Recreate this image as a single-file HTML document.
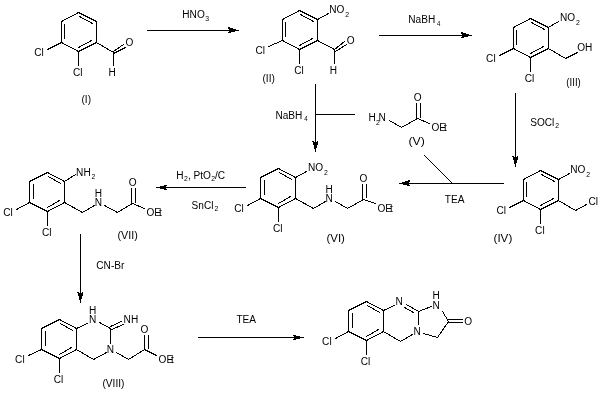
<!DOCTYPE html>
<html><head><meta charset="utf-8"><style>
html,body{margin:0;padding:0;background:#fff;width:603px;height:404px;overflow:hidden}
svg{display:block;will-change:transform}
text{font-family:"Liberation Sans",sans-serif}
</style></head><body>
<svg width="603" height="404" viewBox="0 0 603 404">
<rect width="603" height="404" fill="#fff"/>
<g stroke="#000" stroke-width="1" stroke-linecap="square" shape-rendering="crispEdges" fill="none">
<line x1="78.5" y1="12.5" x2="96.5" y2="21.5"/>
<line x1="96.5" y1="21.5" x2="96.5" y2="42.5"/>
<line x1="96.5" y1="42.5" x2="78.5" y2="51.5"/>
<line x1="78.5" y1="51.5" x2="61.5" y2="42.5"/>
<line x1="61.5" y1="42.5" x2="61.5" y2="21.5"/>
<line x1="61.5" y1="21.5" x2="78.5" y2="12.5"/>
<line x1="64.5" y1="24.5" x2="64.5" y2="38.5"/>
<line x1="79.5" y1="16.5" x2="92.5" y2="23.5"/>
<line x1="78.5" y1="47.5" x2="91.5" y2="40.5"/>
<line x1="61.5" y1="42.5" x2="47.5" y2="49.5"/>
<line x1="78.5" y1="51.5" x2="78.5" y2="65.5"/>
<line x1="96.5" y1="42.5" x2="113.5" y2="52.5"/>
<line x1="113.5" y1="52.5" x2="113.5" y2="65.5"/>
<line x1="113.5" y1="51.5" x2="123.5" y2="44.5"/>
<line x1="113.5" y1="53.5" x2="125.5" y2="47.5"/>
<line x1="147.5" y1="30.5" x2="229.5" y2="30.5"/>
<line x1="299.5" y1="10.5" x2="317.5" y2="19.5"/>
<line x1="317.5" y1="19.5" x2="317.5" y2="40.5"/>
<line x1="317.5" y1="40.5" x2="299.5" y2="49.5"/>
<line x1="299.5" y1="49.5" x2="282.5" y2="40.5"/>
<line x1="282.5" y1="40.5" x2="282.5" y2="19.5"/>
<line x1="282.5" y1="19.5" x2="299.5" y2="10.5"/>
<line x1="285.5" y1="22.5" x2="285.5" y2="36.5"/>
<line x1="300.5" y1="14.5" x2="313.5" y2="21.5"/>
<line x1="299.5" y1="45.5" x2="312.5" y2="38.5"/>
<line x1="282.5" y1="40.5" x2="268.5" y2="46.5"/>
<line x1="299.5" y1="49.5" x2="299.5" y2="63.5"/>
<line x1="317.5" y1="19.5" x2="328.5" y2="13.5"/>
<line x1="317.5" y1="40.5" x2="334.5" y2="49.5"/>
<line x1="334.5" y1="49.5" x2="334.5" y2="63.5"/>
<line x1="334.5" y1="49.5" x2="344.5" y2="41.5"/>
<line x1="335.5" y1="51.5" x2="346.5" y2="44.5"/>
<line x1="379.5" y1="35.5" x2="462.5" y2="35.5"/>
<line x1="530.5" y1="18.5" x2="548.5" y2="27.5"/>
<line x1="548.5" y1="27.5" x2="548.5" y2="48.5"/>
<line x1="548.5" y1="48.5" x2="530.5" y2="57.5"/>
<line x1="530.5" y1="57.5" x2="513.5" y2="48.5"/>
<line x1="513.5" y1="48.5" x2="513.5" y2="27.5"/>
<line x1="513.5" y1="27.5" x2="530.5" y2="18.5"/>
<line x1="516.5" y1="30.5" x2="516.5" y2="44.5"/>
<line x1="531.5" y1="22.5" x2="544.5" y2="29.5"/>
<line x1="530.5" y1="53.5" x2="543.5" y2="46.5"/>
<line x1="513.5" y1="48.5" x2="499.5" y2="55.5"/>
<line x1="530.5" y1="57.5" x2="530.5" y2="71.5"/>
<line x1="548.5" y1="27.5" x2="558.5" y2="21.5"/>
<line x1="548.5" y1="48.5" x2="565.5" y2="58.5"/>
<line x1="565.5" y1="58.5" x2="577.5" y2="52.5"/>
<line x1="515.5" y1="93.5" x2="515.5" y2="157.5"/>
<line x1="540.5" y1="170.5" x2="558.5" y2="179.5"/>
<line x1="558.5" y1="179.5" x2="558.5" y2="200.5"/>
<line x1="558.5" y1="200.5" x2="540.5" y2="209.5"/>
<line x1="540.5" y1="209.5" x2="523.5" y2="200.5"/>
<line x1="523.5" y1="200.5" x2="523.5" y2="179.5"/>
<line x1="523.5" y1="179.5" x2="540.5" y2="170.5"/>
<line x1="526.5" y1="182.5" x2="526.5" y2="196.5"/>
<line x1="541.5" y1="174.5" x2="554.5" y2="181.5"/>
<line x1="540.5" y1="205.5" x2="553.5" y2="198.5"/>
<line x1="523.5" y1="200.5" x2="509.5" y2="207.5"/>
<line x1="540.5" y1="209.5" x2="540.5" y2="223.5"/>
<line x1="558.5" y1="179.5" x2="569.5" y2="173.5"/>
<line x1="558.5" y1="200.5" x2="575.5" y2="210.5"/>
<line x1="575.5" y1="210.5" x2="586.5" y2="204.5"/>
<line x1="315.5" y1="84.5" x2="315.5" y2="142.5"/>
<line x1="315.5" y1="114.5" x2="354.5" y2="114.5"/>
<line x1="389.5" y1="120.5" x2="401.5" y2="127.5"/>
<line x1="401.5" y1="127.5" x2="417.5" y2="118.5"/>
<line x1="416.5" y1="118.5" x2="416.5" y2="103.5"/>
<line x1="420.5" y1="117.5" x2="420.5" y2="103.5"/>
<line x1="417.5" y1="118.5" x2="429.5" y2="123.5"/>
<line x1="408.5" y1="183.5" x2="503.5" y2="183.5"/>
<line x1="424.5" y1="155.5" x2="452.5" y2="183.5"/>
<line x1="278.5" y1="168.5" x2="295.5" y2="177.5"/>
<line x1="295.5" y1="177.5" x2="295.5" y2="198.5"/>
<line x1="295.5" y1="198.5" x2="278.5" y2="207.5"/>
<line x1="278.5" y1="207.5" x2="260.5" y2="198.5"/>
<line x1="260.5" y1="198.5" x2="260.5" y2="177.5"/>
<line x1="260.5" y1="177.5" x2="278.5" y2="168.5"/>
<line x1="264.5" y1="180.5" x2="264.5" y2="194.5"/>
<line x1="279.5" y1="172.5" x2="291.5" y2="179.5"/>
<line x1="278.5" y1="203.5" x2="290.5" y2="196.5"/>
<line x1="260.5" y1="198.5" x2="247.5" y2="205.5"/>
<line x1="278.5" y1="207.5" x2="278.5" y2="221.5"/>
<line x1="295.5" y1="177.5" x2="306.5" y2="171.5"/>
<line x1="295.5" y1="198.5" x2="313.5" y2="208.5"/>
<line x1="313.5" y1="208.5" x2="325.5" y2="201.5"/>
<line x1="335.5" y1="201.5" x2="347.5" y2="208.5"/>
<line x1="347.5" y1="208.5" x2="363.5" y2="199.5"/>
<line x1="362.5" y1="199.5" x2="362.5" y2="184.5"/>
<line x1="366.5" y1="197.5" x2="366.5" y2="184.5"/>
<line x1="363.5" y1="199.5" x2="375.5" y2="203.5"/>
<line x1="165.5" y1="187.5" x2="245.5" y2="187.5"/>
<line x1="47.5" y1="172.5" x2="64.5" y2="181.5"/>
<line x1="64.5" y1="181.5" x2="64.5" y2="202.5"/>
<line x1="64.5" y1="202.5" x2="47.5" y2="211.5"/>
<line x1="47.5" y1="211.5" x2="29.5" y2="202.5"/>
<line x1="29.5" y1="202.5" x2="29.5" y2="181.5"/>
<line x1="29.5" y1="181.5" x2="47.5" y2="172.5"/>
<line x1="33.5" y1="184.5" x2="33.5" y2="198.5"/>
<line x1="48.5" y1="176.5" x2="60.5" y2="183.5"/>
<line x1="47.5" y1="207.5" x2="59.5" y2="200.5"/>
<line x1="29.5" y1="202.5" x2="16.5" y2="209.5"/>
<line x1="47.5" y1="211.5" x2="47.5" y2="225.5"/>
<line x1="64.5" y1="181.5" x2="75.5" y2="174.5"/>
<line x1="64.5" y1="202.5" x2="82.5" y2="212.5"/>
<line x1="82.5" y1="212.5" x2="94.5" y2="205.5"/>
<line x1="104.5" y1="205.5" x2="117.5" y2="212.5"/>
<line x1="117.5" y1="212.5" x2="132.5" y2="203.5"/>
<line x1="131.5" y1="203.5" x2="131.5" y2="188.5"/>
<line x1="135.5" y1="202.5" x2="135.5" y2="188.5"/>
<line x1="132.5" y1="203.5" x2="144.5" y2="208.5"/>
<line x1="80.5" y1="234.5" x2="80.5" y2="293.5"/>
<line x1="59.5" y1="319.5" x2="76.5" y2="328.5"/>
<line x1="76.5" y1="328.5" x2="76.5" y2="349.5"/>
<line x1="76.5" y1="349.5" x2="59.5" y2="358.5"/>
<line x1="59.5" y1="358.5" x2="41.5" y2="349.5"/>
<line x1="41.5" y1="349.5" x2="41.5" y2="328.5"/>
<line x1="41.5" y1="328.5" x2="59.5" y2="319.5"/>
<line x1="45.5" y1="331.5" x2="45.5" y2="345.5"/>
<line x1="60.5" y1="323.5" x2="72.5" y2="330.5"/>
<line x1="59.5" y1="354.5" x2="71.5" y2="347.5"/>
<line x1="41.5" y1="349.5" x2="28.5" y2="355.5"/>
<line x1="59.5" y1="358.5" x2="59.5" y2="372.5"/>
<line x1="76.5" y1="328.5" x2="87.5" y2="323.5"/>
<line x1="99.5" y1="322.5" x2="110.5" y2="328.5"/>
<line x1="111.5" y1="329.5" x2="123.5" y2="324.5"/>
<line x1="110.5" y1="326.5" x2="121.5" y2="321.5"/>
<line x1="110.5" y1="328.5" x2="110.5" y2="343.5"/>
<line x1="106.5" y1="352.5" x2="93.5" y2="359.5"/>
<line x1="93.5" y1="359.5" x2="76.5" y2="349.5"/>
<line x1="116.5" y1="352.5" x2="128.5" y2="359.5"/>
<line x1="128.5" y1="359.5" x2="144.5" y2="349.5"/>
<line x1="144.5" y1="349.5" x2="144.5" y2="335.5"/>
<line x1="148.5" y1="348.5" x2="148.5" y2="335.5"/>
<line x1="144.5" y1="349.5" x2="156.5" y2="355.5"/>
<line x1="198.5" y1="337.5" x2="294.5" y2="337.5"/>
<line x1="366.5" y1="301.5" x2="383.5" y2="310.5"/>
<line x1="383.5" y1="310.5" x2="383.5" y2="331.5"/>
<line x1="383.5" y1="331.5" x2="366.5" y2="340.5"/>
<line x1="366.5" y1="340.5" x2="348.5" y2="331.5"/>
<line x1="348.5" y1="331.5" x2="348.5" y2="310.5"/>
<line x1="348.5" y1="310.5" x2="366.5" y2="301.5"/>
<line x1="352.5" y1="313.5" x2="352.5" y2="327.5"/>
<line x1="367.5" y1="305.5" x2="379.5" y2="312.5"/>
<line x1="366.5" y1="336.5" x2="378.5" y2="329.5"/>
<line x1="348.5" y1="331.5" x2="335.5" y2="338.5"/>
<line x1="366.5" y1="340.5" x2="366.5" y2="354.5"/>
<line x1="383.5" y1="310.5" x2="394.5" y2="305.5"/>
<line x1="406.5" y1="304.5" x2="418.5" y2="311.5"/>
<line x1="404.5" y1="307.5" x2="413.5" y2="312.5"/>
<line x1="418.5" y1="311.5" x2="418.5" y2="324.5"/>
<line x1="412.5" y1="334.5" x2="400.5" y2="341.5"/>
<line x1="400.5" y1="341.5" x2="383.5" y2="331.5"/>
<line x1="418.5" y1="311.5" x2="431.5" y2="306.5"/>
<line x1="442.5" y1="311.5" x2="448.5" y2="321.5"/>
<line x1="448.5" y1="319.5" x2="462.5" y2="319.5"/>
<line x1="448.5" y1="322.5" x2="462.5" y2="322.5"/>
<line x1="448.5" y1="321.5" x2="437.5" y2="337.5"/>
<line x1="437.5" y1="337.5" x2="423.5" y2="333.5"/>
</g>
<g fill="#000" shape-rendering="crispEdges">
<polygon points="239.0,30.5 227.8,26.9 229.2,30.5 227.8,33.4"/>
<polygon points="472.0,35.5 460.8,31.9 462.2,35.5 460.8,38.4"/>
<polygon points="515.5,167.0 512.3,155.8 515.5,157.2 518.7,155.8"/>
<polygon points="315.5,152.0 312.3,140.8 315.5,142.2 318.7,140.8"/>
<polygon points="399.0,183.5 410.2,179.9 408.8,183.5 410.2,186.4"/>
<polygon points="156.0,187.5 167.4,184.6 166.0,187.5 167.4,190.4"/>
<polygon points="80.5,303.0 77.3,291.8 80.5,293.2 83.7,291.8"/>
<polygon points="304.0,337.5 292.6,334.6 294.0,337.5 292.6,340.4"/>
</g>
<g fill="#000" font-family="Liberation Sans, sans-serif" font-size="11">
<text transform="matrix(0.92,0,0,1,34.3,56.2)">Cl</text>
<text transform="matrix(0.92,0,0,1,73.0,76.0)">Cl</text>
<text transform="matrix(0.92,0,0,1,108.5,75.6)">H</text>
<text transform="matrix(0.92,0,0,1,125.5,45.6)">O</text>
<text transform="matrix(0.92,0,0,1,81.5,103.0)">(I)</text>
<text transform="matrix(0.92,0,0,1,182.3,18.0)">HNO<tspan font-size="7.5" dy="3" dx="0.5">3</tspan></text>
<text transform="matrix(0.92,0,0,1,255.5,53.7)">Cl</text>
<text transform="matrix(0.92,0,0,1,294.2,73.5)">Cl</text>
<text transform="matrix(0.92,0,0,1,329.3,13.0)">NO<tspan font-size="7.5" dy="4" dx="1">2</tspan></text>
<text transform="matrix(0.92,0,0,1,329.7,74.1)">H</text>
<text transform="matrix(0.92,0,0,1,346.7,44.1)">O</text>
<text transform="matrix(0.92,0,0,1,262.5,82.0)">(II)</text>
<text transform="matrix(0.92,0,0,1,408.3,23.0)">NaBH<tspan font-size="6.5" dy="3" dx="2">4</tspan></text>
<text transform="matrix(0.92,0,0,1,486.1,61.8)">Cl</text>
<text transform="matrix(0.92,0,0,1,524.8,81.6)">Cl</text>
<text transform="matrix(0.92,0,0,1,559.9,21.1)">NO<tspan font-size="7.5" dy="4" dx="1">2</tspan></text>
<text transform="matrix(0.92,0,0,1,577.2,50.8)">OH</text>
<text transform="matrix(0.88,0,0,1,566.3,86.0)">(III)</text>
<text transform="matrix(0.92,0,0,1,530.2,126.0)">SOCl<tspan font-size="7.5" dy="2" dx="1">2</tspan></text>
<text transform="matrix(0.92,0,0,1,496.4,213.9)">Cl</text>
<text transform="matrix(0.92,0,0,1,535.1,233.7)">Cl</text>
<text transform="matrix(0.92,0,0,1,570.2,173.2)">NO<tspan font-size="7.5" dy="4" dx="1">2</tspan></text>
<text transform="matrix(0.92,0,0,1,588.5,205.0)">Cl</text>
<text transform="matrix(1.06,0,0,1,493.5,242.0)">(IV)</text>
<text transform="matrix(0.92,0,0,1,275.4,119.0)">NaBH<tspan font-size="6.5" dy="2" dx="2">4</tspan></text>
<text transform="matrix(0.92,0,0,1,368.6,120.9)">H<tspan font-size="7.5" dy="3.9">2</tspan><tspan dy="-3.9" dx="-1.2">N</tspan></text>
<text transform="matrix(0.92,0,0,1,413.7,100.5)">O</text>
<text transform="matrix(0.92,0,0,1,431.4,130.8)">OE<tspan dx="-2.3">t</tspan></text>
<text transform="matrix(1.12,0,0,1,408.5,145.0)">(V)</text>
<text transform="matrix(0.92,0,0,1,444.8,203.0)">TEA</text>
<text transform="matrix(0.92,0,0,1,234.2,211.9)">Cl</text>
<text transform="matrix(0.92,0,0,1,272.9,231.7)">Cl</text>
<text transform="matrix(0.92,0,0,1,308.0,171.2)">NO<tspan font-size="7.5" dy="4" dx="1">2</tspan></text>
<text transform="matrix(0.92,0,0,1,325.6,201.6)">N</text>
<text transform="matrix(0.92,0,0,1,325.6,193.0)">H</text>
<text transform="matrix(0.92,0,0,1,359.6,182.1)">O</text>
<text transform="matrix(0.92,0,0,1,377.4,211.9)">OE<tspan dx="-2.3">t</tspan></text>
<text transform="matrix(1.04,0,0,1,326.5,242.0)">(VI)</text>
<text transform="matrix(0.92,0,0,1,176.3,179)">H<tspan font-size="7.5" dy="2" dx="0.5">2</tspan><tspan dy="-2">, PtO</tspan><tspan font-size="7.5" dy="2" dx="0.3">2</tspan><tspan dy="-2">/C</tspan></text>
<text transform="matrix(0.92,0,0,1,191.6,209.0)">SnCl<tspan font-size="7.5" dy="2" dx="1">2</tspan></text>
<text transform="matrix(0.92,0,0,1,3.3,216.1)">Cl</text>
<text transform="matrix(0.92,0,0,1,42.0,235.9)">Cl</text>
<text transform="matrix(0.92,0,0,1,76.1,176.0)">NH<tspan font-size="7.5" dy="3" dx="1">2</tspan></text>
<text transform="matrix(0.92,0,0,1,94.7,205.8)">N</text>
<text transform="matrix(0.92,0,0,1,94.7,197.2)">H</text>
<text transform="matrix(0.92,0,0,1,128.7,186.3)">O</text>
<text transform="matrix(0.92,0,0,1,146.5,216.1)">OE<tspan dx="-2.3">t</tspan></text>
<text transform="matrix(0.98,0,0,1,117.5,239.0)">(VII)</text>
<text transform="matrix(0.92,0,0,1,96.3,269.2)">CN-Br</text>
<text transform="matrix(0.92,0,0,1,15.1,362.7)">Cl</text>
<text transform="matrix(0.92,0,0,1,53.8,382.5)">Cl</text>
<text transform="matrix(0.92,0,0,1,88.9,322.8)">N</text>
<text transform="matrix(0.92,0,0,1,88.9,314.0)">H</text>
<text transform="matrix(0.92,0,0,1,123.6,322.8)">NH</text>
<text transform="matrix(0.92,0,0,1,106.8,353.0)">N</text>
<text transform="matrix(0.92,0,0,1,140.6,332.8)">O</text>
<text transform="matrix(0.92,0,0,1,158.6,363.3)">OE<tspan dx="-2.3">t</tspan></text>
<text transform="matrix(0.92,0,0,1,102.5,387.0)">(VIII)</text>
<text transform="matrix(0.92,0,0,1,236.4,323.2)">TEA</text>
<text transform="matrix(0.92,0,0,1,322.1,344.8)">Cl</text>
<text transform="matrix(0.92,0,0,1,360.8,364.6)">Cl</text>
<text transform="matrix(0.92,0,0,1,395.6,304.7)">N</text>
<text transform="matrix(0.92,0,0,1,413.6,334.5)">N</text>
<text transform="matrix(0.92,0,0,1,432.6,308.8)">N</text>
<text transform="matrix(0.92,0,0,1,432.6,299.2)">H</text>
<text transform="matrix(0.92,0,0,1,464.3,324.8)">O</text>
</g>
</svg>
</body></html>
